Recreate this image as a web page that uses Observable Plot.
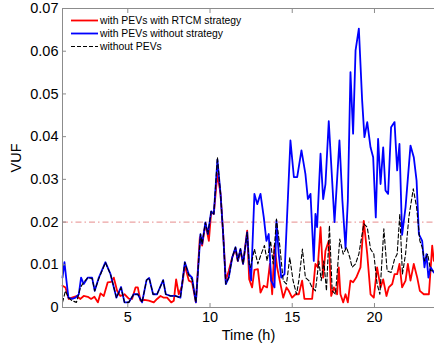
<!DOCTYPE html>
<html><head><meta charset="utf-8">
<script src="https://cdn.jsdelivr.net/npm/d3@7"></script>
<script src="https://cdn.jsdelivr.net/npm/@observablehq/plot@0.6"></script>
<style>
body{margin:0;background:#fff;}
#wrap{position:relative;width:434px;height:347px;font-family:"Liberation Sans",Arial,sans-serif;}
#legend{position:absolute;left:71px;top:14px;font-size:10.4px;line-height:13px;color:#000;}
#legend .row{display:flex;align-items:center;height:13px;white-space:nowrap;}
#legend svg{width:27px;height:13px;margin-right:2px;}
</style></head><body><div id="wrap"></div>
<script>
const xTicks = [5, 10, 15, 20];
const yTicks = [0, 0.01, 0.02, 0.03, 0.04, 0.05, 0.06, 0.07];
const limitLevel = [0.02];
const seriesNames = ["with PEVs with RTCM strategy", "with PEVs without strategy", "without PEVs"];

const redT = [1.03,1.21,1.41,1.61,1.88,2.12,2.32,2.57,2.77,2.97,3.18,3.34,3.54,3.78,3.99,4.15,4.35,4.55,4.80,5.06,5.26,5.47,5.61,5.77,6.01,6.28,6.58,6.78,6.99,7.19,7.39,7.64,7.80,7.94,8.10,8.30,8.47,8.71,8.91,9.14,9.38,9.52,9.72,9.93,10.07,10.23,10.45,10.64,10.80,10.96,11.14,11.35,11.55,11.69,11.85,12.01,12.26,12.38,12.56,12.70,12.91,13.07,13.27,13.47,13.64,13.78,13.92,14.08,14.24,14.45,14.65,14.79,14.99,15.20,15.40,15.60,15.74,15.91,16.21,16.41,16.55,16.72,16.88,17.02,17.22,17.37,17.53,17.73,17.83,17.93,18.10,18.24,18.38,18.54,18.70,18.89,19.15,19.35,19.56,19.76,19.96,20.16,20.37,20.53,20.73,20.87,21.08,21.22,21.38,21.52,21.68,21.89,22.03,22.19,22.39,22.60,22.76,23.00,23.31,23.51,23.61];
const redV = [0.0051,0.0047,0.0020,0.0023,0.0027,0.0020,0.0027,0.0025,0.0020,0.0025,0.0012,0.0033,0.0027,0.0059,0.0060,0.0070,0.0039,0.0027,0.0031,0.0021,0.0020,0.0047,0.0047,0.0016,0.0018,0.0016,0.0012,0.0020,0.0027,0.0023,0.0023,0.0012,0.0016,0.0066,0.0031,0.0051,0.0098,0.0063,0.0059,0.0012,0.0164,0.0145,0.0196,0.0156,0.0223,0.0219,0.0313,0.0266,0.0172,0.0063,0.0086,0.0117,0.0137,0.0109,0.0133,0.0102,0.0180,0.0066,0.0047,0.0088,0.0090,0.0035,0.0051,0.0047,0.0102,0.0031,0.0145,0.0094,0.0063,0.0023,0.0047,0.0039,0.0023,0.0031,0.0031,0.0063,0.0020,0.0020,0.0020,0.0102,0.0094,0.0188,0.0070,0.0133,0.0156,0.0027,0.0047,0.0031,0.0094,0.0031,0.0012,0.0031,0.0012,0.0063,0.0059,0.0070,0.0094,0.0203,0.0125,0.0031,0.0023,0.0094,0.0047,0.0066,0.0027,0.0047,0.0055,0.0078,0.0078,0.0102,0.0047,0.0063,0.0102,0.0063,0.0102,0.0070,0.0039,0.0031,0.0031,0.0145,0.0109];

const blueT = [1.03,1.15,1.27,1.39,1.61,1.82,2.02,2.16,2.32,2.57,2.83,2.99,3.24,3.64,3.95,4.31,4.59,4.80,5.06,5.36,5.61,5.87,6.14,6.30,6.54,6.78,7.15,7.31,7.59,7.90,8.20,8.47,8.71,8.91,9.14,9.42,9.52,9.72,9.87,10.07,10.23,10.45,10.64,10.80,10.96,11.14,11.35,11.55,11.69,11.85,12.01,12.26,12.38,12.50,12.70,12.87,13.07,13.27,13.43,13.57,13.72,13.92,14.04,14.18,14.33,14.53,14.89,15.10,15.30,15.56,15.80,15.95,16.11,16.31,16.41,16.51,16.72,16.88,17.02,17.22,17.57,17.87,18.05,18.24,18.38,18.54,18.70,18.85,19.05,19.25,19.39,19.56,19.76,19.92,20.08,20.22,20.37,20.53,20.67,20.83,21.01,21.22,21.38,21.52,21.68,21.89,22.19,22.39,22.56,22.70,22.90,23.04,23.16,23.28,23.41,23.61];
const blueV = [0.0070,0.0106,0.0063,0.0023,0.0020,0.0023,0.0031,0.0070,0.0055,0.0070,0.0070,0.0039,0.0070,0.0106,0.0078,0.0023,0.0048,0.0012,0.0012,0.0031,0.0031,0.0012,0.0064,0.0069,0.0031,0.0031,0.0064,0.0031,0.0027,0.0027,0.0023,0.0106,0.0078,0.0070,0.0012,0.0172,0.0149,0.0199,0.0172,0.0225,0.0219,0.0346,0.0266,0.0172,0.0055,0.0070,0.0117,0.0141,0.0109,0.0137,0.0102,0.0176,0.0102,0.0063,0.0266,0.0242,0.0266,0.0211,0.0156,0.0172,0.0063,0.0047,0.0203,0.0125,0.0070,0.0078,0.0391,0.0305,0.0305,0.0368,0.0313,0.0254,0.0266,0.0109,0.0219,0.0188,0.0360,0.0254,0.0289,0.0436,0.0200,0.0391,0.0250,0.0138,0.0250,0.0551,0.0407,0.0602,0.0653,0.0485,0.0399,0.0434,0.0375,0.0352,0.0211,0.0395,0.0289,0.0375,0.0274,0.0266,0.0422,0.0434,0.0321,0.0383,0.0170,0.0235,0.0379,0.0352,0.0297,0.0172,0.0156,0.0094,0.0125,0.0070,0.0094,0.0082];

const blackT = [1.03,1.21,1.39,1.61,1.88,2.12,2.32,2.57,2.83,2.99,3.24,3.64,3.95,4.31,4.59,4.80,5.06,5.36,5.61,5.87,6.14,6.30,6.54,6.78,7.15,7.31,7.59,7.90,8.20,8.47,8.71,8.91,9.14,9.42,9.52,9.72,9.87,10.07,10.23,10.45,10.64,10.80,10.96,11.14,11.35,11.55,11.69,11.85,12.01,12.26,12.38,12.46,12.70,12.91,13.11,13.31,13.47,13.68,13.84,14.04,14.24,14.45,14.65,14.85,15.05,15.26,15.40,15.62,15.80,16.01,16.21,16.41,16.62,16.76,16.92,17.08,17.26,17.43,17.63,17.89,18.10,18.30,18.50,18.64,18.85,19.05,19.35,19.56,19.76,19.96,20.16,20.33,20.57,20.77,21.01,21.22,21.38,21.54,21.70,21.89,22.09,22.36,22.56,22.76,22.90,23.04,23.24,23.41,23.61];
const blackV = [0.0012,0.0039,0.0023,0.0016,0.0012,0.0047,0.0059,0.0070,0.0068,0.0039,0.0068,0.0105,0.0078,0.0023,0.0046,0.0012,0.0012,0.0031,0.0031,0.0012,0.0064,0.0069,0.0031,0.0031,0.0064,0.0031,0.0027,0.0027,0.0023,0.0106,0.0075,0.0066,0.0012,0.0172,0.0149,0.0199,0.0172,0.0225,0.0219,0.0352,0.0266,0.0172,0.0055,0.0070,0.0117,0.0141,0.0109,0.0137,0.0102,0.0176,0.0102,0.0094,0.0137,0.0102,0.0125,0.0145,0.0109,0.0156,0.0102,0.0207,0.0145,0.0063,0.0055,0.0117,0.0063,0.0031,0.0063,0.0137,0.0070,0.0063,0.0047,0.0039,0.0109,0.0063,0.0109,0.0039,0.0192,0.0039,0.0031,0.0160,0.0125,0.0141,0.0117,0.0094,0.0102,0.0125,0.0196,0.0188,0.0137,0.0125,0.0055,0.0031,0.0184,0.0086,0.0082,0.0113,0.0125,0.0219,0.0078,0.0125,0.0211,0.0278,0.0235,0.0156,0.0141,0.0109,0.0125,0.0086,0.0086];

const colors = ["#ff0000", "#0000ff", "#000000"];
const axisGray = "#8c8c8c";
const toRows = (T, V) => T.map((t, i) => ({t, v: V[i]}));
const red = toRows(redT, redV), blue = toRows(blueT, blueV), black = toRows(blackT, blackV);
const xDomain = [1.03, 23.65];

const chart = Plot.plot({
  width: 434, height: 347,
  marginLeft: 62, marginRight: 0, marginTop: 8, marginBottom: 40,
  style: {fontFamily: "'Liberation Sans', Arial, sans-serif", fontSize: "14.5px", background: "white", color: "black"},
  x: {domain: xDomain},
  y: {domain: [0, 0.07]},
  marks: [
    Plot.ruleY(limitLevel, {stroke: "#eba3a3", strokeWidth: 1.2, strokeDasharray: "6,3,1.5,3"}),
    Plot.line(red, {x: "t", y: "v", stroke: colors[0], strokeWidth: 1.8}),
    Plot.line(blue, {x: "t", y: "v", stroke: colors[1], strokeWidth: 1.8}),
    Plot.line(black, {x: "t", y: "v", stroke: colors[2], strokeWidth: 1.1, strokeDasharray: "4,2.5"}),
    Plot.ruleY([0], {stroke: axisGray}),
    Plot.ruleY([0.07], {stroke: axisGray}),
    Plot.ruleX([xDomain[0]], {stroke: axisGray}),
    Plot.axisX(xTicks, {anchor: "bottom", tickSize: -4, text: null, stroke: axisGray, label: null}),
    Plot.axisX(xTicks, {anchor: "top", tickSize: -4, text: null, stroke: axisGray, label: null}),
    Plot.axisY(yTicks, {anchor: "left", tickSize: -4, text: null, stroke: axisGray, label: null}),
    Plot.axisX(xTicks, {anchor: "bottom", tickSize: 0, tickPadding: 4, label: "Time (h)", labelArrow: "none", labelAnchor: "center", labelOffset: 32}),
    Plot.axisY(yTicks, {anchor: "left", tickSize: 0, tickPadding: 4, tickFormat: d => d === 0 ? "0" : d.toFixed(2), label: "VUF", labelArrow: "none", labelAnchor: "center", labelOffset: 52})
  ]
});
const wrap = document.getElementById("wrap");
wrap.appendChild(chart);

const legend = document.createElement("div");
legend.id = "legend";
const dashes = [null, null, "4,2"];
seriesNames.forEach((name, i) => {
  const row = document.createElement("div");
  row.className = "row";
  row.innerHTML = `<svg viewBox="0 0 27 13"><line x1="0" x2="27" y1="6.5" y2="6.5" stroke="${colors[i]}" stroke-width="${i < 2 ? 1.8 : 1.1}" ${dashes[i] ? `stroke-dasharray="${dashes[i]}"` : ""}/></svg><span>${name}</span>`;
  legend.appendChild(row);
});
wrap.appendChild(legend);
</script></body></html>
